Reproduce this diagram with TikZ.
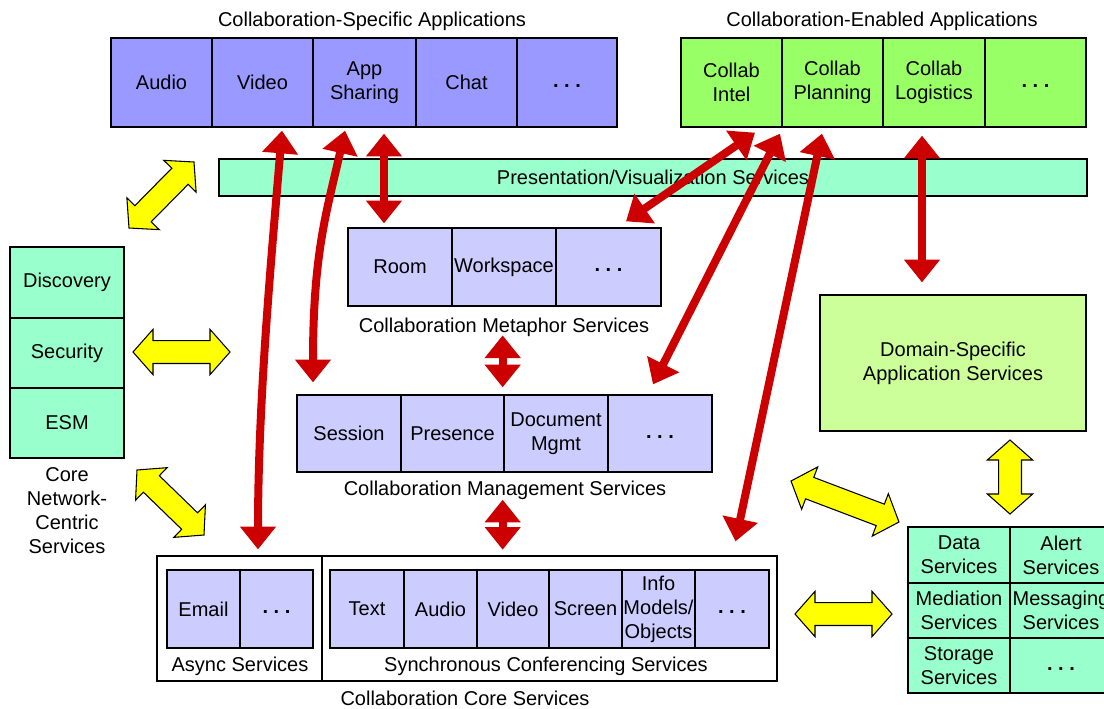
\documentclass[tikz,border=0pt]{standalone}
\usepackage{fontspec}
\setmainfont{Liberation Sans}
\usetikzlibrary{arrows.meta,calc}
\definecolor{appblue}{HTML}{9999FF}
\definecolor{appgreen}{HTML}{99FF66}
\definecolor{mint}{HTML}{99FFCC}
\definecolor{lav}{HTML}{CCCCFF}
\definecolor{domgreen}{HTML}{CCFF99}
\definecolor{redc}{HTML}{CC0000}
\definecolor{yel}{HTML}{FFFF00}
\tikzset{
  cell/.style={draw=black, line width=1pt, inner sep=0pt, align=center, font=\fontsize{15}{18}\selectfont},
  lbl/.style={inner sep=0pt, align=center, font=\fontsize{15}{18}\selectfont},
  redarr/.style={draw=redc, line width=6pt, {Triangle[width=26pt,length=17pt]}-{Triangle[width=26pt,length=17pt]}},
  yarr/.style={fill=yel, draw=black, line width=0.8pt, line join=miter},
}
\newcommand\cellbox[7]{\node[cell, fill=#6, minimum width={(#4-#2)*0.75pt}, minimum height={(#5-#3)*0.75pt}] (#1) at ({(#2+#4)/2},{(#3+#5)/2}) {#7};}
\newcommand\mydots{\vphantom{Ag}\textbf{.\hspace{4.2pt}.\hspace{4.2pt}.}}
\newcommand\yarrow[2]{%
  \coordinate (ya) at ($(#1)!15pt!(#2)$);
  \coordinate (yb) at ($(#2)!15pt!(#1)$);
  \filldraw[yarr] (#1) -- ($(ya)!17pt!90:(#2)$) -- ($(ya)!8.6pt!90:(#2)$) -- ($(yb)!8.6pt!-90:(#1)$) -- ($(yb)!17pt!-90:(#1)$) -- (#2) -- ($(yb)!17pt!90:(#1)$) -- ($(yb)!8.6pt!90:(#1)$) -- ($(ya)!8.6pt!-90:(#2)$) -- ($(ya)!17pt!-90:(#2)$) -- cycle;}
\begin{document}
\begin{tikzpicture}[x=0.75pt, y=-0.75pt]
\useasboundingbox (0,0) rectangle (1104,708);
\clip (0,0) rectangle (1104,708);
\fill[white] (0,0) rectangle (1104,708);

% Collaboration-specific applications
\node[lbl] (cslbl) at (372,21) {Collaboration-Specific Applications};
\cellbox{audio}{111}{38}{212}{127}{appblue}{Audio}
\cellbox{video}{212}{38}{313}{127}{appblue}{Video}
\cellbox{appsh}{313}{38}{416}{127}{appblue}{App\\Sharing}
\cellbox{chat}{416}{38}{517}{127}{appblue}{Chat}
\cellbox{csdots}{517}{38}{617}{127}{appblue}{\mydots}

% Collaboration-enabled applications
\node[lbl] (celbl) at (882,21) {Collaboration-Enabled Applications};
\cellbox{intel}{681}{38}{782}{127}{appgreen}{Collab\\Intel}
\cellbox{planning}{782}{38}{883}{127}{appgreen}{Collab\\Planning}
\cellbox{logistics}{883}{38}{985}{127}{appgreen}{Collab\\Logistics}
\cellbox{cedots}{985}{38}{1086}{127}{appgreen}{\mydots}

% Presentation bar
\cellbox{pres}{219}{159}{1087}{196}{mint}{Presentation/Visualization Services}

% Metaphor services
\cellbox{room}{348}{228}{452}{306}{lav}{Room}
\cellbox{workspace}{452}{228}{556}{306}{lav}{Workspace}
\cellbox{metadots}{556}{228}{661}{306}{lav}{\mydots}
\node[lbl] (metalbl) at (504,327) {Collaboration Metaphor Services};

% Management services
\cellbox{session}{297}{395}{401}{472}{lav}{Session}
\cellbox{presence}{401}{395}{504}{472}{lav}{Presence}
\cellbox{docmgmt}{504}{395}{608}{472}{lav}{Document\\Mgmt}
\cellbox{mgmtdots}{608}{395}{712}{472}{lav}{\mydots}
\node[lbl] (mgmtlbl) at (505,490) {Collaboration Management Services};

% Core network-centric services
\cellbox{discovery}{10}{247}{124}{318}{mint}{Discovery}
\cellbox{security}{10}{318}{124}{388}{mint}{Security}
\cellbox{esm}{10}{388}{124}{458}{mint}{ESM}
\node[lbl] (corelbl) at (67,511) {Core\\Network-\\Centric\\Services};

% Domain-specific
\cellbox{domain}{820}{295}{1086}{431}{domgreen}{Domain-Specific\\Application Services}

% Storage grid
\cellbox{datas}{908}{527}{1010}{583}{mint}{Data\\Services}
\cellbox{alert}{1010}{527}{1112}{583}{mint}{Alert\\Services}
\cellbox{mediation}{908}{583}{1010}{638}{mint}{Mediation\\Services}
\cellbox{messaging}{1010}{583}{1112}{638}{mint}{Messaging\\Services}
\cellbox{storage}{908}{638}{1010}{693}{mint}{Storage\\Services}
\cellbox{stdots}{1010}{638}{1112}{693}{mint}{\mydots}

% Collaboration core services
\cellbox{asyncbox}{157}{556}{322}{681}{white}{}
\cellbox{syncbox}{322}{556}{777}{681}{white}{}
\cellbox{email}{167}{570}{240}{648}{lav}{Email}
\cellbox{asdots}{240}{570}{313}{648}{lav}{\mydots}
\cellbox{text}{330}{570}{404}{648}{lav}{Text}
\cellbox{saudio}{404}{570}{477}{648}{lav}{Audio}
\cellbox{svideo}{477}{570}{549}{648}{lav}{Video}
\cellbox{screen}{549}{570}{622}{648}{lav}{Screen}
\cellbox{info}{622}{570}{695}{648}{lav}{Info\\Models/\\Objects}
\cellbox{sydots}{695}{570}{769}{648}{lav}{\mydots}
\node[lbl] (asynclbl) at (240,666) {Async Services};
\node[lbl] (synclbl) at (546,666) {Synchronous Conferencing Services};
\node[lbl] (corecolbl) at (465,698) {Collaboration Core Services};

% Yellow arrows
\coordinate (yA1) at (129,228); \coordinate (yA2) at (194,162);
\coordinate (yB1) at (133,352); \coordinate (yB2) at (230,352);
\coordinate (yC1) at (137,470); \coordinate (yC2) at (204,535);
\coordinate (yD1) at (791,481); \coordinate (yD2) at (899,522);
\coordinate (yE1) at (795,614); \coordinate (yE2) at (892,614);
\coordinate (yF1) at (1010,440); \coordinate (yF2) at (1010,514);
\yarrow{yA1}{yA2}
\yarrow{yB1}{yB2}
\yarrow{yC1}{yC2}
\yarrow{yD1}{yD2}
\yarrow{yE1}{yE2}
\yarrow{yF1}{yF2}

% Red arrows
\draw[redarr] ($(video.south)+(19.5,3)$) .. controls +(-10,120) and +(0,-150) .. ($(asyncbox.north)+(18.5,-6)$);
\draw[redarr] ($(appsh.south)+(-19.5,3)$) .. controls +(-18,80) and +(0,-130) .. ($(session.north)+(-36,-12)$);
\draw[redarr] ($(appsh.south)+(19.5,6)$) -- ($(room.north)+(-16,-4)$);
\draw[redarr] ($(intel.south)+(23.5,5)$) -- ($(metadots.north)+(17.5,-6)$);
\draw[redarr] ($(intel.south)+(48.5,6)$) -- ($(mgmtdots.north)+(-7,-10)$);
\draw[redarr] ($(planning.south)+(-10.5,6)$) -- ($(syncbox.north)+(186,-14)$);
\draw[redarr] ($(logistics.south)+(-12,8)$) -- ($(domain.north)+(-31,-12)$);
\draw[redarr] ($(presence.north east)+(-2,-59)$) -- ($(presence.north east)+(-2,-7)$);
\draw[redarr] ($(presence.south east)+(-2,27)$) -- ($(presence.south east)+(-2,77)$);
\end{tikzpicture}
\end{document}
